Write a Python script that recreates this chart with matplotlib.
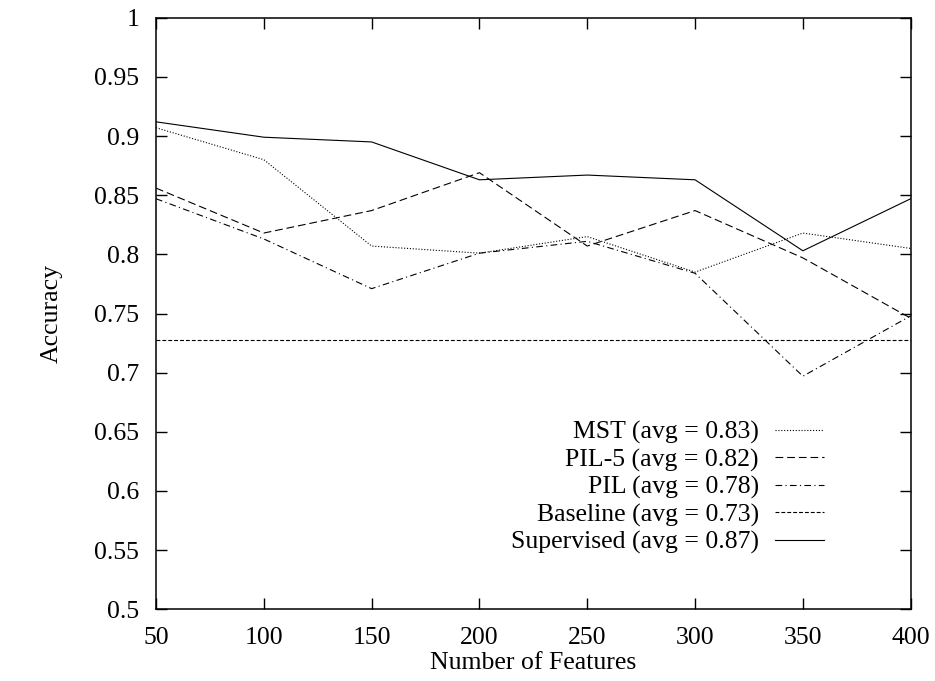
import matplotlib
matplotlib.use("Agg")
import matplotlib.pyplot as plt
from matplotlib.ticker import FuncFormatter, MultipleLocator

features = [50, 100, 150, 200, 250, 300, 350, 400]
mst = [0.907, 0.880, 0.807, 0.801, 0.815, 0.785, 0.818, 0.805]
pil5 = [0.856, 0.818, 0.837, 0.869, 0.807, 0.837, 0.797, 0.746]
pil = [0.847, 0.813, 0.771, 0.801, 0.811, 0.784, 0.697, 0.748]
baseline = [0.728] * 8
supervised = [0.912, 0.899, 0.895, 0.863, 0.867, 0.863, 0.803, 0.847]

labels = ["MST (avg = 0.83)", "PIL-5 (avg = 0.82)", "PIL (avg = 0.78)",
          "Baseline (avg = 0.73)", "Supervised (avg = 0.87)"]

plt.rcParams['font.family'] = ['Liberation Serif', 'DejaVu Serif']
fs = 18.5

fig = plt.figure(figsize=(9.35, 6.81), dpi=100)
ax = fig.add_axes([156/935, 1-609.3/681, (910.7-156)/935, (609.3-17.7)/681])

lw = 0.8
ax.plot(features, mst, color='black', lw=lw, linestyle=(0, (1, 1.6)), label=labels[0])
ax.plot(features, pil5, color='black', lw=lw, linestyle=(0, (7, 3.5)), label=labels[1])
ax.plot(features, pil, color='black', lw=lw, linestyle=(0, (6, 3, 1, 3)), label=labels[2])
ax.plot(features, baseline, color='black', lw=lw, linestyle=(0, (3.5, 1.8)), label=labels[3])
ax.plot(features, supervised, color='black', lw=lw, linestyle='-', label=labels[4])

ax.set_xlim(50, 400)
ax.set_ylim(0.5, 1.0)
ax.xaxis.set_major_locator(MultipleLocator(50))
ax.yaxis.set_major_locator(MultipleLocator(0.05))
ax.yaxis.set_major_formatter(FuncFormatter(lambda v, p: f"{v:g}"))
ax.tick_params(direction='in', length=8, width=1, top=True, right=True,
               labelsize=fs)
ax.tick_params(axis='x', pad=13)
ax.tick_params(axis='y', pad=12)
for s in ax.spines.values():
    s.set_linewidth(1.1)

ax.set_xlabel("Number of Features", fontsize=fs, labelpad=2)
ax.set_ylabel("Accuracy", fontsize=fs, labelpad=23)

leg = ax.legend(loc='center', bbox_to_anchor=(667.5/935, 1-487.5/681), bbox_transform=fig.transFigure,
                frameon=False, markerfirst=False, fontsize=fs, handlelength=1.9,
                labelspacing=0.16, handletextpad=0.65, borderpad=0)

fig.savefig("out.png", dpi=100)
